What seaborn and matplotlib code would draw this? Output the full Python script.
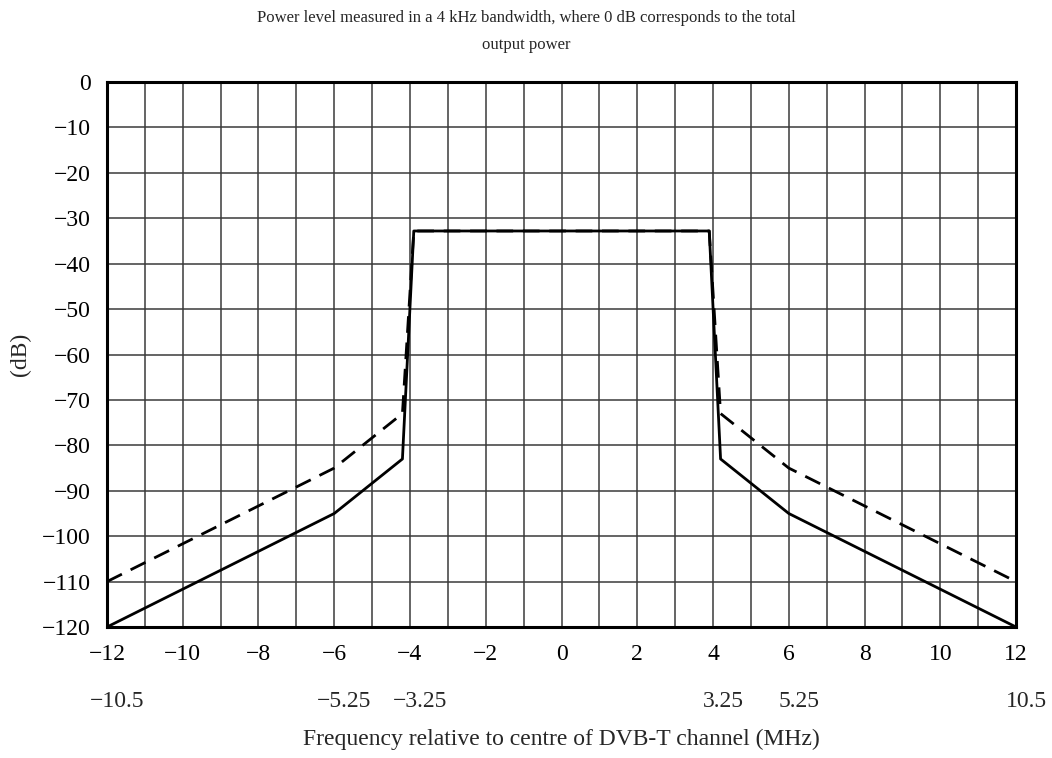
import matplotlib
matplotlib.use("Agg")
import matplotlib.pyplot as plt
import matplotlib.transforms as mtransforms
import seaborn as sns
import pandas as pd

# Masque spectral DVB-T (critique / non critique)
freq = [-12, -6, -4.2, -3.9, 3.9, 4.2, 6, 12]
nivel_critico = [-120, -95, -83, -32.8, -32.8, -83, -95, -120]
nivel_nao_critico = [-110, -85, -73, -32.8, -32.8, -73, -85, -110]

xticks = list(range(-12, 13, 2))
yticks = list(range(-120, 1, 10))
segunda_linha_pos = [-12, -6, -4, 4, 6, 12]
segunda_linha_txt = ["\u221210.5", "\u22125.25", "\u22123.25", "3.25", "5.25", "10.5"]

sns.set_theme(style="white")
plt.rcParams['font.family'] = ['Liberation Serif', 'DejaVu Serif']
plt.rcParams['axes.unicode_minus'] = True

df = pd.DataFrame({'freq': freq, 'critico': nivel_critico, 'nao_critico': nivel_nao_critico})

fig = plt.figure(figsize=(10.52, 7.58), dpi=100)
ax = fig.add_axes([0.1017, 0.1728, 0.8641, 0.7190])

sns.lineplot(data=df, x='freq', y='nao_critico', sort=False, color='black',
             linewidth=2.0, linestyle=(0, (6, 3.5)), ax=ax, zorder=3)
sns.lineplot(data=df, x='freq', y='critico', sort=False, color='black',
             linewidth=2.0, ax=ax, zorder=4)

ax.set_xlim(-12, 12)
ax.set_ylim(-120, 0)
ax.set_xticks(range(-12, 13, 1))
ax.set_xticklabels([f"{v}".replace('-', '\u2212') if v in xticks else "" for v in range(-12, 13, 1)])
ax.set_yticks(yticks)
ax.set_yticklabels([f"{v}".replace('-', '\u2212') for v in yticks])
ax.grid(True, color='#3a3a3a', linewidth=1.1)
ax.tick_params(length=0, labelsize=17, colors='black')
ax.tick_params(axis='x', pad=12)
ax.tick_params(axis='y', pad=11.5)
for s in ax.spines.values():
    s.set_visible(True)
    s.set_color('black')
    s.set_linewidth(2.2)

# segunda linha de rótulos
trans = mtransforms.offset_copy(ax.get_xaxis_transform(), fig=fig, x=10, y=0, units='dots')
for p, t in zip(segunda_linha_pos, segunda_linha_txt):
    ax.text(p, -0.136, t, transform=trans, ha='center', va='center', fontsize=17)

ax.set_xlabel("Frequency relative to centre of DVB-T channel (MHz)", fontsize=17, labelpad=46)
ax.set_ylabel("(dB)", fontsize=17, labelpad=8)

fig.text(0.5, 0.976, "Power level measured in a 4 kHz bandwidth, where 0 dB corresponds to the total",
         ha='center', va='center', fontsize=12)
fig.text(0.5, 0.940, "output power", ha='center', va='center', fontsize=12)

fig.savefig("out.png", dpi=100)
